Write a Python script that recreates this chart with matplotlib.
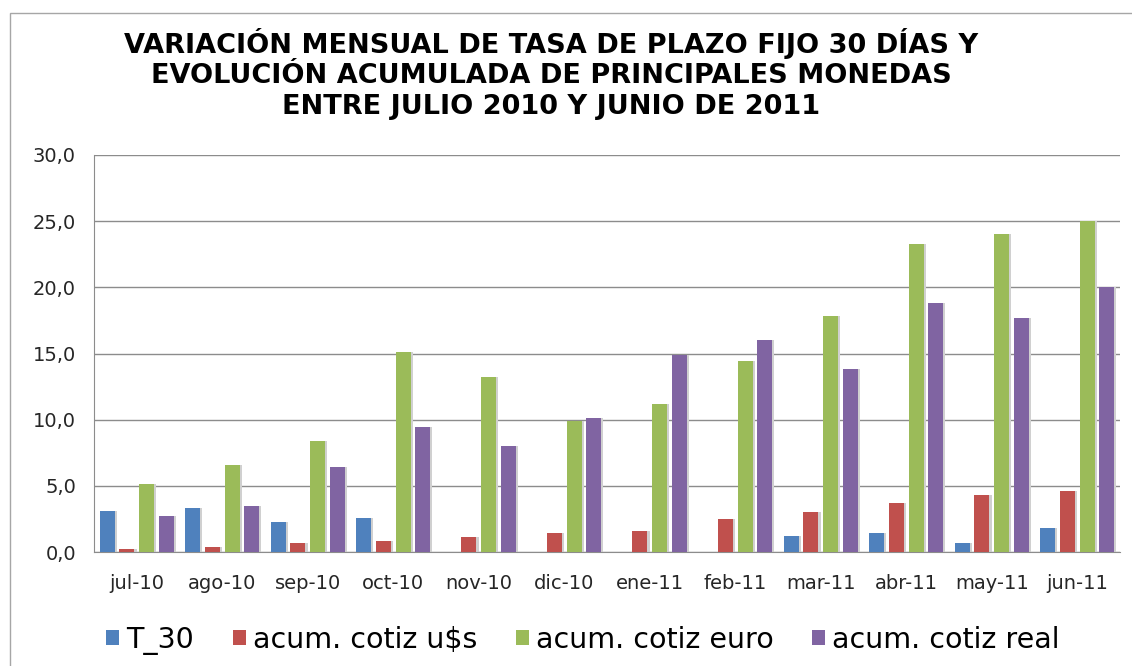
import numpy as np
import matplotlib
matplotlib.use("Agg")
import matplotlib.pyplot as plt
from matplotlib.patches import Rectangle

months = ["jul-10", "ago-10", "sep-10", "oct-10", "nov-10", "dic-10",
          "ene-11", "feb-11", "mar-11", "abr-11", "may-11", "jun-11"]
t_30 = [3.1, 3.3, 2.25, 2.6, 0, 0, 0, 0, 1.2, 1.4, 0.7, 1.8]
cotiz_usd = [0.25, 0.4, 0.7, 0.85, 1.1, 1.45, 1.6, 2.5, 3.0, 3.7, 4.3, 4.6]
cotiz_euro = [5.15, 6.55, 8.4, 15.1, 13.2, 9.9, 11.15, 14.4, 17.8, 23.3, 24.0, 25.0]
cotiz_real = [2.7, 3.5, 6.4, 9.45, 8.0, 10.1, 14.9, 16.0, 13.8, 18.8, 17.65, 20.0]

series = [("T_30", t_30, "#4F81BD"),
          ("acum. cotiz u$s", cotiz_usd, "#C0504D"),
          ("acum. cotiz euro", cotiz_euro, "#9BBB59"),
          ("acum. cotiz real", cotiz_real, "#8064A2")]

plt.rcParams["font.family"] = ["DejaVu Sans"]

fig = plt.figure(figsize=(11.32, 6.66), dpi=100)
fig.patches.append(Rectangle((10 / 1132, -0.01), 1.2, (666 - 13) / 666 + 0.01,
                             transform=fig.transFigure, fill=False,
                             edgecolor="#a6a6a6", linewidth=1))
ax = fig.add_axes([94 / 1132, 114 / 666, 1026 / 1132, 397 / 666])

x = np.arange(len(months))
pitch = 0.229
width = 0.175
for i, (name, vals, color) in enumerate(series):
    pos = x + (i - 1.5) * pitch
    # soft shadow like the spreadsheet style
    ax.bar(pos + 0.025, vals, width, color="#d0d0d0", zorder=2)
    ax.bar(pos, vals, width, color=color, label=name, zorder=3)

ax.set_xlim(-0.5, len(months) - 0.5)
ax.set_ylim(0, 30)
ax.set_yticks(np.arange(0, 31, 5))
ax.set_yticklabels([f"{v:.1f}".replace(".", ",") for v in np.arange(0, 31, 5)])
ax.set_xticks(x)
ax.set_xticklabels(months)
ax.tick_params(axis="both", length=0, labelsize=14, colors="#262626")
ax.tick_params(axis="x", pad=16)
ax.tick_params(axis="y", pad=13)
ax.yaxis.grid(True, color="#8c8c8c", linewidth=1)
ax.set_axisbelow(True)
for s in ["top", "right"]:
    ax.spines[s].set_visible(False)
for s in ["left", "bottom"]:
    ax.spines[s].set_color("#8c8c8c")

fig.text(0.487, 0.889, "VARIACIÓN MENSUAL DE TASA DE PLAZO FIJO 30 DÍAS Y\n"
         "EVOLUCIÓN ACUMULADA DE PRINCIPALES MONEDAS\n"
         "ENTRE JULIO 2010 Y JUNIO DE 2011",
         ha="center", va="center", fontsize=19.5, fontweight="bold",
         linespacing=1.22)

fig.legend(loc="center", bbox_to_anchor=(0.515, 0.039), ncol=4, frameon=False,
           handlelength=0.46, handleheight=0.46, handletextpad=0.25,
           columnspacing=1.35, prop={"family": "DejaVu Sans", "size": 20.5})

fig.savefig("out.png", dpi=100)
